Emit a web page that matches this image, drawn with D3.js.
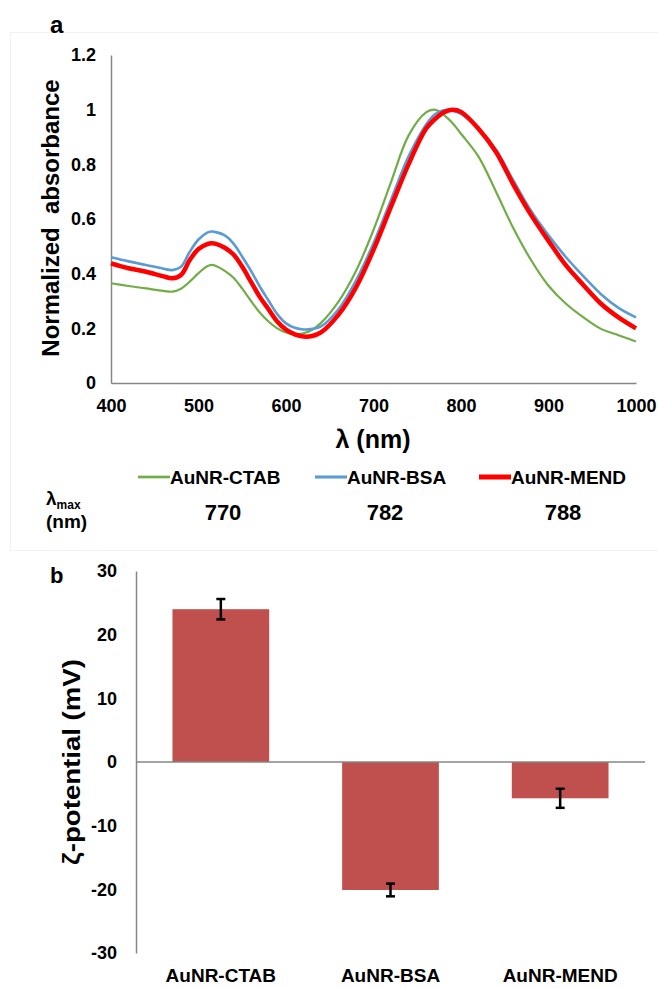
<!DOCTYPE html>
<html>
<head>
<meta charset="utf-8">
<script src="https://d3js.org/d3.v7.min.js"></script>
<style>
  body { margin: 0; background: #fff; }
  svg text { font-family: "Liberation Sans", Arial, sans-serif; font-weight: bold; fill: #000; }
</style>
</head>
<body>
<script>
// ---- data: panel a, normalized absorbance spectra
const wavelength = [400, 420, 440, 460, 470, 480, 490, 500, 510, 515, 520, 530, 540, 550, 560, 570, 580, 590, 600, 610, 620, 630, 640, 660, 680, 700, 720, 740, 760, 770, 780, 790, 800, 820, 840, 860, 880, 900, 920, 940, 960, 980, 1000];
const ctab = [0.365, 0.355, 0.346, 0.337, 0.334, 0.345, 0.371, 0.402, 0.427, 0.432, 0.428, 0.410, 0.385, 0.345, 0.300, 0.258, 0.225, 0.200, 0.185, 0.178, 0.182, 0.195, 0.220, 0.298, 0.410, 0.560, 0.735, 0.905, 0.990, 1.000, 0.982, 0.952, 0.912, 0.828, 0.700, 0.565, 0.450, 0.356, 0.290, 0.240, 0.198, 0.175, 0.152];
const bsa = [0.460, 0.445, 0.432, 0.418, 0.413, 0.425, 0.480, 0.525, 0.550, 0.554, 0.552, 0.540, 0.510, 0.462, 0.410, 0.353, 0.302, 0.252, 0.218, 0.202, 0.196, 0.198, 0.207, 0.270, 0.375, 0.511, 0.670, 0.828, 0.945, 0.982, 0.998, 0.996, 0.985, 0.930, 0.853, 0.740, 0.630, 0.540, 0.460, 0.390, 0.325, 0.275, 0.240];
const mend = [0.438, 0.420, 0.407, 0.390, 0.383, 0.395, 0.450, 0.490, 0.508, 0.511, 0.509, 0.495, 0.470, 0.425, 0.370, 0.315, 0.270, 0.225, 0.195, 0.178, 0.170, 0.172, 0.185, 0.250, 0.350, 0.487, 0.645, 0.800, 0.930, 0.965, 0.990, 1.000, 0.992, 0.930, 0.845, 0.725, 0.615, 0.520, 0.430, 0.358, 0.290, 0.240, 0.200];
const seriesNames = ["AuNR-CTAB", "AuNR-BSA", "AuNR-MEND"];
const lambdaMax = ["770", "782", "788"];
const absTicks = [0, 0.2, 0.4, 0.6, 0.8, 1, 1.2];
const wlTicks = [400, 500, 600, 700, 800, 900, 1000];

// ---- data: panel b, zeta potential
const samples = ["AuNR-CTAB", "AuNR-BSA", "AuNR-MEND"];
const zeta = [24.0, -20.1, -5.7];
const zetaErr = [1.6, 1.0, 1.5];
const zetaTicks = [-30, -20, -10, 0, 10, 20, 30];

const W = 658, H = 988;
const colors = ["#70ad47", "#5b9bd5", "#ff0000"];
const widths = [2.2, 2.6, 4.5];

const svg = d3.select("body").append("svg")
  .attr("width", W).attr("height", H);

// faint frame around panel a
svg.append("rect")
  .attr("x", 10.5).attr("y", 32.5).attr("width", 660).attr("height", 518)
  .attr("fill", "none").attr("stroke", "#f2f2f2");

// ===== panel a =====
const x = d3.scaleLinear().domain([400, 1000]).range([111, 636]);
const y = d3.scaleLinear().domain([0, 1.2]).range([383, 55]);

svg.append("text").attr("x", 50).attr("y", 33).style("font-size", "24px").text("a");

const gx = svg.append("g").attr("transform", "translate(0,383)")
  .call(d3.axisBottom(x).tickValues(wlTicks).tickSize(0).tickPadding(16).tickFormat(d => d));
const gy = svg.append("g").attr("transform", "translate(111,0)")
  .call(d3.axisLeft(y).tickValues(absTicks).tickSize(0).tickPadding(15).tickFormat(d => String(+d.toFixed(1))));
[gx, gy].forEach(g => {
  g.select(".domain").attr("stroke", "#868686").attr("stroke-width", 1.5);
  g.selectAll("text").style("font-size", "18px").style("font-family", null);
});

svg.append("text").attr("x", 373).attr("y", 448).attr("text-anchor", "middle")
  .style("font-size", "25px").text("λ (nm)");
svg.append("text").attr("transform", "translate(59,218) rotate(-90)").attr("text-anchor", "middle")
  .style("font-size", "24px").attr("xml:space", "preserve").text("Normalized  absorbance");

const spectra = [ctab, bsa, mend];
const line = d3.line().x((d, i) => x(wavelength[i])).y(d => y(d)).curve(d3.curveCatmullRom);
spectra.forEach((s, k) => {
  svg.append("path").datum(s).attr("d", line)
    .attr("fill", "none").attr("stroke", colors[k]).attr("stroke-width", widths[k])
    .attr("stroke-linejoin", "round");
});

// legend
const legX = [138, 315, 479];
seriesNames.forEach((n, k) => {
  svg.append("line").attr("x1", legX[k]).attr("x2", legX[k] + 32).attr("y1", 477).attr("y2", 477)
    .attr("stroke", colors[k]).attr("stroke-width", widths[k] + 0.5);
  svg.append("text").attr("x", legX[k] + 32).attr("y", 484).style("font-size", "19px").text(n);
});

// lambda max row
const lm = svg.append("text").attr("x", 46).attr("y", 505).style("font-size", "19px");
lm.append("tspan").text("λ");
lm.append("tspan").attr("dy", 4).style("font-size", "12px").text("max");
svg.append("text").attr("x", 46).attr("y", 528).style("font-size", "19px").text("(nm)");
const lmX = [223, 385, 563];
lambdaMax.forEach((v, k) => {
  svg.append("text").attr("x", lmX[k]).attr("y", 520).attr("text-anchor", "middle")
    .style("font-size", "22px").text(v);
});

// ===== panel b =====
const xb = d3.scaleBand().domain(samples).range([136, 645]).paddingInner(0.43).paddingOuter(0.215);
const yb = d3.scaleLinear().domain([-30, 30]).range([953, 571]);

svg.append("text").attr("x", 50).attr("y", 583).style("font-size", "22px").text("b");

const gyb = svg.append("g").attr("transform", "translate(136,0)")
  .call(d3.axisLeft(yb).tickValues(zetaTicks).tickSize(0).tickPadding(19).tickFormat(d => String(d)));
gyb.select(".domain").attr("stroke", "#868686").attr("stroke-width", 1.5);
gyb.selectAll("text").style("font-size", "18px").style("font-family", null);

svg.selectAll("rect.bar").data(zeta).enter().append("rect")
  .attr("class", "bar")
  .attr("x", (d, i) => xb(samples[i]))
  .attr("width", xb.bandwidth())
  .attr("y", d => yb(Math.max(0, d)))
  .attr("height", d => Math.abs(yb(d) - yb(0)))
  .attr("fill", "#c0504d");

svg.append("line").attr("x1", 136).attr("x2", 645).attr("y1", yb(0)).attr("y2", yb(0))
  .attr("stroke", "#868686").attr("stroke-width", 1.5);

// error bars
zeta.forEach((d, i) => {
  const cx = xb(samples[i]) + xb.bandwidth() / 2;
  const g = svg.append("g").attr("stroke", "#000").attr("stroke-width", 2.5);
  g.append("line").attr("x1", cx).attr("x2", cx).attr("y1", yb(d + zetaErr[i])).attr("y2", yb(d - zetaErr[i]));
  [d + zetaErr[i], d - zetaErr[i]].forEach(v => {
    g.append("line").attr("x1", cx - 4.5).attr("x2", cx + 4.5).attr("y1", yb(v)).attr("y2", yb(v));
  });
});

const gxb = svg.append("g").attr("transform", "translate(0,953)")
  .call(d3.axisBottom(xb).tickSize(0).tickPadding(16));
gxb.select(".domain").remove();
gxb.selectAll("text").style("font-size", "19px").style("font-family", null);

svg.append("text").attr("transform", "translate(80,762) rotate(-90) scale(1.2,1)").attr("text-anchor", "middle")
  .style("font-size", "23px").text("ζ-potential (mV)");
</script>
</body>
</html>
